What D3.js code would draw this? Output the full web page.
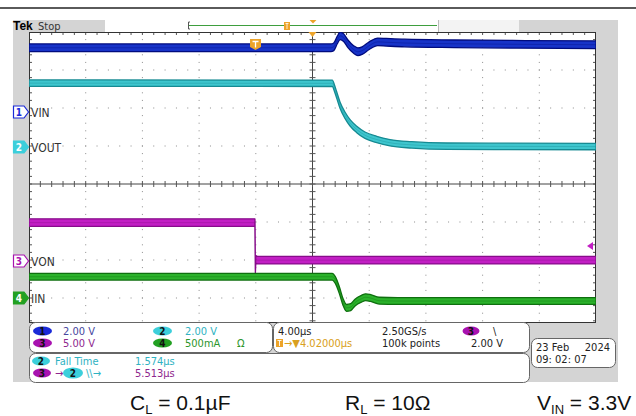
<!DOCTYPE html>
<html>
<head>
<meta charset="utf-8">
<script src="https://cdn.jsdelivr.net/npm/d3@7"></script>
<style>
body { margin: 0; background: #fff; }
svg { display: block; }
</style>
</head>
<body>
<svg id="scope" width="636" height="416"></svg>
<script>
// ---- captured waveforms, time in µs relative to screen centre ----
var vinTime  = [-20, 1.3, 1.5, 1.75, 1.95, 2.2, 2.5, 2.9, 3.2, 3.5, 4.0, 4.6, 5.2, 6.5, 10, 15, 20];
var vinVolts = [3.37, 3.37, 3.42, 3.78, 4.0, 3.9, 3.58, 3.28, 3.16, 3.22, 3.48, 3.68, 3.66, 3.62, 3.58, 3.55, 3.53];

var voutTime  = [-20, 1.4, 1.55, 1.7, 1.94, 2.29, 2.65, 3.12, 3.7, 4.53, 5.47, 7, 9.5, 20];
var voutVolts = [3.37, 3.36, 3.1, 2.76, 2.21, 1.68, 1.28, 0.93, 0.63, 0.40, 0.23, 0.12, 0.05, 0.03];

var vonTime  = [-20, -4.06, -4.03, -4.0, -3.9, 20];
var vonVolts = [5.07, 5.07, -1.1, 0.25, 0.13, 0.13];

var iinTime = [-20, 1.4, 1.6, 1.9, 2.15, 2.4, 2.7, 3.0, 3.45, 3.75, 4.1, 4.7, 6, 20];
var iinAmps = [0.28, 0.28, 0.24, 0.10, -0.05, -0.13, -0.12, -0.06, -0.01, 0.01, 0.0, -0.035, -0.04, -0.04];

// scope settings
var chNames  = ["VIN", "VOUT", "VON", "IIN"];
var chPerDiv = [2, 2, 5, 0.5];          // V/div, V/div, V/div, A/div
var chPos    = [1.9, 0.97, -2.03, -3.0]; // ground, divisions above centre
var trigLevel = 2.0;                     // ch3 falling edge
var trigTime  = -4.02;                   // µs

var chColor = ["#1733c8", "#3ec6ce", "#c21fc4", "#2bb22b"];
var chEdge  = ["#000b7e", "#168a92", "#870d8a", "#0f6f0f"];
var chBand  = [3.8, 3.2, 3.8, 3.4];      // half thickness of the noise band, px
var chBadge = ["#1a2ad8", "#3ccfdb", "#a812b0", "#22a022"];
var chText  = ["#46469e", "#2eb2c2", "#8e278e", "#2c962c"];
var orange = "#eda42a";

var W = 636;
var condensed = "'DejaVu Sans Condensed', 'DejaVu Sans', sans-serif";
var svg = d3.select("#scope");

var g0 = {x0: 29, x1: 596, y0: 32, y1: 336, cut: 322};
var xScale = d3.scaleLinear().domain([-20, 20]).range([g0.x0, g0.x1]);
var divX = d3.scaleLinear().domain([0, 10]).range([g0.x0, g0.x1]);
var divY = d3.scaleLinear().domain([0, 8]).range([g0.y0, g0.y1]);

function yScaleFor(i) {
  var s = chPerDiv[i], p = chPos[i];
  return d3.scaleLinear().domain([-(4 + p) * s, (4 - p) * s]).range([g0.y1, g0.y0]);
}

// bezel
svg.append("line").attr("x1", 0).attr("x2", W).attr("y1", 8).attr("y2", 8)
  .attr("stroke", "#5a5a5a").attr("stroke-width", 2);
svg.append("rect").attr("x", 13).attr("y", 20).attr("width", 605).attr("height", 362).attr("fill", "#d4d4d4");

// record view bar
svg.append("rect").attr("x", 105).attr("y", 20).attr("width", 333).attr("height", 12).attr("fill", "#fff");
svg.append("rect").attr("x", 438).attr("y", 20).attr("width", 81).attr("height", 12).attr("fill", "#f3f3f3");
svg.append("line").attr("x1", 438.5).attr("x2", 438.5).attr("y1", 20).attr("y2", 32).attr("stroke", "#bbb");
svg.append("line").attr("x1", 188).attr("x2", 437).attr("y1", 25.5).attr("y2", 25.5).attr("stroke", "#3e9e3e");
svg.append("path").attr("d", "M190,22H188.5V29H190").attr("fill", "none").attr("stroke", "#555");
svg.append("rect").attr("x", 284).attr("y", 22).attr("width", 6).attr("height", 8).attr("fill", orange);
svg.append("path").attr("d", "M285.5,23.5H288.5M287,23.5V29").attr("stroke", "#fff").attr("stroke-width", 0.8);
svg.append("path").attr("d", "M309.5,20H316.5L313,23.5Z").attr("fill", orange);

svg.append("text").attr("x", 13).attr("y", 30).attr("font-family", "'Liberation Sans', Arial, sans-serif")
  .attr("font-size", 12).attr("font-weight", "bold").text("Tek");
svg.append("text").attr("x", 38).attr("y", 30).attr("font-family", condensed)
  .attr("font-size", 11).attr("fill", "#333").text("Stop");

// graticule
svg.append("defs").append("clipPath").attr("id", "gratClip").append("rect")
  .attr("x", g0.x0).attr("y", g0.y0).attr("width", g0.x1 - g0.x0).attr("height", g0.cut - g0.y0);
svg.append("rect").attr("x", g0.x0).attr("y", g0.y0).attr("width", g0.x1 - g0.x0)
  .attr("height", g0.cut - g0.y0).attr("fill", "#fff");

var grid = svg.append("g").attr("clip-path", "url(#gratClip)");
var subX = d3.range(0, 51).map(function(i) { return i / 5; });
var subY = d3.range(0, 41).map(function(i) { return i / 5; });

d3.range(1, 10).filter(function(k) { return k !== 5; }).forEach(function(k) {
  grid.append("g").selectAll("rect").data(subY).join("rect")
    .attr("x", divX(k) - 0.5).attr("y", function(d) { return divY(d) - 0.5; })
    .attr("width", 1).attr("height", 1).attr("fill", "#8c8c8c");
});
d3.range(1, 8).filter(function(k) { return k !== 4; }).forEach(function(k) {
  grid.append("g").selectAll("rect").data(subX).join("rect")
    .attr("x", function(d) { return divX(d) - 0.5; }).attr("y", divY(k) - 0.5)
    .attr("width", 1).attr("height", 1).attr("fill", "#8c8c8c");
});

// centre cross with minor ticks
grid.append("line").attr("x1", g0.x0).attr("x2", g0.x1).attr("y1", divY(4)).attr("y2", divY(4)).attr("stroke", "#444");
grid.append("line").attr("x1", divX(5)).attr("x2", divX(5)).attr("y1", g0.y0).attr("y2", g0.y1).attr("stroke", "#444");
grid.append("g").selectAll("line").data(subX).join("line")
  .attr("x1", function(d) { return divX(d); }).attr("x2", function(d) { return divX(d); })
  .attr("y1", divY(4) - 3).attr("y2", divY(4) + 3).attr("stroke", "#555");
grid.append("g").selectAll("line").data(subY).join("line")
  .attr("y1", function(d) { return divY(d); }).attr("y2", function(d) { return divY(d); })
  .attr("x1", divX(5) - 3).attr("x2", divX(5) + 3).attr("stroke", "#555");
// border ticks
grid.append("g").selectAll("line").data(subX).join("line")
  .attr("x1", function(d) { return divX(d); }).attr("x2", function(d) { return divX(d); })
  .attr("y1", g0.y0).attr("y2", g0.y0 + 3).attr("stroke", "#555");
grid.append("g").selectAll("line").data(subY).join("line")
  .attr("y1", function(d) { return divY(d); }).attr("y2", function(d) { return divY(d); })
  .attr("x1", g0.x0).attr("x2", g0.x0 + 3).attr("stroke", "#555");
grid.append("g").selectAll("line").data(subY).join("line")
  .attr("y1", function(d) { return divY(d); }).attr("y2", function(d) { return divY(d); })
  .attr("x1", g0.x1 - 3).attr("x2", g0.x1).attr("stroke", "#555");
svg.append("rect").attr("x", g0.x0 + 0.5).attr("y", g0.y0 + 0.5).attr("width", g0.x1 - g0.x0 - 1)
  .attr("height", g0.cut - g0.y0).attr("fill", "none").attr("stroke", "#333");

// traces, drawn as noise bands so fast edges stay thin
var traces = [
  {t: vinTime, v: vinVolts, curve: d3.curveMonotoneX},
  {t: voutTime, v: voutVolts, curve: d3.curveMonotoneX},
  {t: vonTime, v: vonVolts, curve: d3.curveLinear},
  {t: iinTime, v: iinAmps, curve: d3.curveMonotoneX}
];
var traceG = svg.append("g").attr("clip-path", "url(#gratClip)");
traces.forEach(function(tr, i) {
  var ys = yScaleFor(i), h = chBand[i];
  var pts = tr.t.map(function(t, j) { return [t, tr.v[j]]; });
  var band = d3.area()
    .x(function(d) { return xScale(d[0]); })
    .y0(function(d) { return ys(d[1]) + h; })
    .y1(function(d) { return ys(d[1]) - h; })
    .curve(tr.curve);
  var mid = d3.line().x(function(d) { return xScale(d[0]); }).y(function(d) { return ys(d[1]); }).curve(tr.curve);
  traceG.append("path").datum(pts).attr("d", band)
    .attr("fill", chColor[i]).attr("stroke", chEdge[i]).attr("stroke-width", 1.3).attr("stroke-linejoin", "round");
  traceG.append("path").datum(pts).attr("d", mid).attr("fill", "none")
    .attr("stroke", chEdge[i]).attr("stroke-opacity", 0.35).attr("stroke-width", 1);
});

// trigger markers
var tx = xScale(trigTime);
svg.append("path").attr("d", "M" + (xScale(0) - 4) + "," + g0.y0 + "h8l-4,5z").attr("fill", orange);
svg.append("path").attr("d", "M" + (tx - 5.5) + ",39h11v8l-5.5,3l-5.5,-3z").attr("fill", orange);
svg.append("path").attr("d", "M" + (tx - 3) + ",41.5h6M" + tx + ",41.5v6").attr("stroke", "#fff").attr("stroke-width", 1.3);
var tly = yScaleFor(2)(trigLevel);
svg.append("path").attr("d", "M" + (g0.x1 - 9) + "," + tly + "l6,-4v8z").attr("fill", chColor[2]);

// ground markers and channel labels
chNames.forEach(function(name, i) {
  var y = Math.round(yScaleFor(i)(0));
  var filled = (i === 1 || i === 3);
  svg.append("path").attr("d", "M13.5," + (y - 6) + "H24L28.5," + y + "L24," + (y + 6) + "H13.5Z")
    .attr("fill", filled ? chBadge[i] : "#fff").attr("stroke", chBadge[i]).attr("stroke-width", 1.2);
  svg.append("text").attr("x", 19).attr("y", y + 4).attr("text-anchor", "middle")
    .attr("font-family", condensed).attr("font-size", 10).attr("font-weight", "bold")
    .attr("fill", filled ? "#fff" : chBadge[i]).text(i + 1);
  svg.append("text").attr("x", 31).attr("y", y + 5).attr("font-family", condensed)
    .attr("font-size", 12).attr("fill", "#333").text(name);
});

// readout boxes
var ro = svg.append("g").attr("font-family", condensed).attr("font-size", 11);
function box(x, y, w, h) {
  ro.append("rect").attr("x", x + 0.5).attr("y", y + 0.5).attr("width", w).attr("height", h)
    .attr("rx", 6).attr("fill", "#fff").attr("stroke", "#666");
}
function badge(cx, cy, rx, ry, color, label) {
  ro.append("ellipse").attr("cx", cx).attr("cy", cy).attr("rx", rx).attr("ry", ry).attr("fill", color);
  ro.append("text").attr("x", cx).attr("y", cy + 3.5).attr("text-anchor", "middle")
    .attr("font-size", 10).attr("font-weight", "bold").attr("fill", "#111").text(label);
}
function txt(x, y, s, color, anchor) {
  ro.append("text").attr("x", x).attr("y", y).attr("fill", color || "#222")
    .attr("text-anchor", anchor || "start").text(s);
}

box(29, 322, 243, 30);
box(273, 322, 256, 30);
box(29, 353, 500, 29);
box(531, 338, 84, 29);

badge(42.5, 331, 9.5, 4.5, chBadge[0], "1");
txt(63, 335, "2.00 V", chText[0]);
badge(42.5, 343, 9.5, 4.5, chBadge[2], "3");
txt(63, 347, "5.00 V", chText[2]);
badge(162.5, 331, 9.5, 4.5, chBadge[1], "2");
txt(185, 335, "2.00 V", chText[1]);
badge(162.5, 343, 9.5, 4.5, chBadge[3], "4");
txt(185, 347, "500mA", chText[3]);
txt(237, 347, "Ω", chText[3]);

txt(278, 335, "4.00µs");
ro.append("rect").attr("x", 276).attr("y", 339).attr("width", 7).attr("height", 8).attr("fill", orange);
ro.append("path").attr("d", "M277.5,340.5H281.5M279.5,340.5V346").attr("stroke", "#fff").attr("stroke-width", 0.9);
txt(284, 347, "→▼4.02000µs", "#d9a020");
txt(382, 335, "2.50GS/s");
txt(382, 347, "100k points");
badge(471, 331, 8.5, 4.5, chBadge[2], "3");
txt(493, 335, "\\");
txt(503, 347, "2.00 V", "#222", "end");

badge(41, 361, 9, 4.5, chBadge[1], "2");
txt(55, 365, "Fall Time", chText[1]);
txt(135, 365, "1.574µs", chText[1]);
badge(42, 373, 9, 4.5, chBadge[2], "3");
txt(55, 377, "→", chText[2]);
badge(73, 373, 10, 5.5, chBadge[1], "2");
txt(86, 377, "\\\\→", chText[1]);
txt(135, 377, "5.513µs", chText[2]);

txt(536, 351, "23 Feb");
txt(610, 351, "2024", "#222", "end");
txt(536, 363, "09: 02: 07");

// test conditions caption
var cap = svg.append("g").attr("font-family", "'Liberation Sans', Arial, sans-serif").attr("font-size", 21).attr("fill", "#111");
function caption(x, main, sub, rest) {
  var t = cap.append("text").attr("x", x).attr("y", 410);
  t.append("tspan").text(main);
  t.append("tspan").attr("font-size", 13).attr("dy", 4).text(sub);
  t.append("tspan").attr("dy", -4).text(" " + rest);
}
caption(130, "C", "L", "= 0.1µF");
caption(345, "R", "L", "= 10Ω");
caption(537, "V", "IN", "= 3.3V");
</script>
</body>
</html>
